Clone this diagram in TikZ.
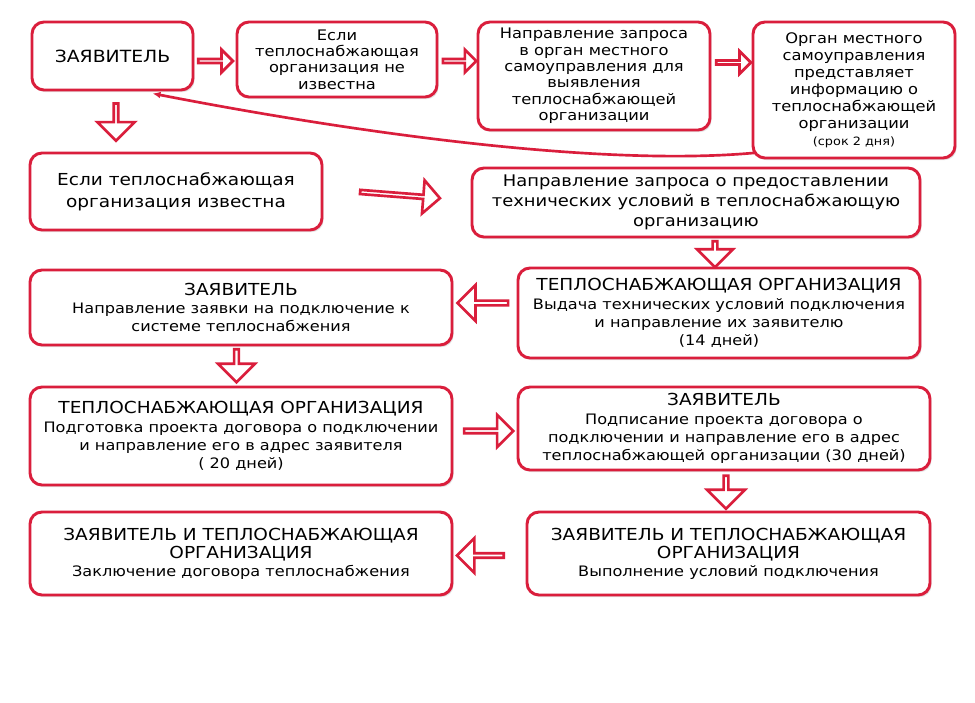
\documentclass[tikz,border=0pt]{standalone}
\usepackage{fontspec}
\setmainfont{DejaVu Sans}[FakeStretch=1.12]
\usetikzlibrary{arrows.meta,shapes.arrows,shadows}
\definecolor{boxred}{RGB}{218,30,60}

\begin{document}
\begin{tikzpicture}[x=0.75pt,y=-0.75pt,
  box/.style={draw=boxred,line width=2.2pt,rounded corners=9pt,fill=white,align=center,inner sep=2pt,
    drop shadow={shadow xshift=1.2pt,shadow yshift=-1.6pt,opacity=0.22}},
  blk/.style={single arrow,draw=boxred,fill=white,line width=2pt,inner sep=0pt,single arrow tip angle=90},
  bd/.style={font=\fontsize{10.8}{13.6}\selectfont}]
  % поле
  \fill[white] (0,0) rectangle (975,703);
  \useasboundingbox (0,0) rectangle (975,703);
  \newcommand{\hdr}[1]{{\fontsize{12.4}{15}\selectfont #1}}
  % верхний ряд
  \node[box,minimum width=120.75pt,minimum height=51pt,font=\fontsize{12.6}{15}\selectfont] (zaya) at (112.5,56) {ЗАЯВИТЕЛЬ};
  \node[box,minimum width=150pt,minimum height=56.25pt,font=\fontsize{10.9}{12.2}\selectfont] (neizv) at (337,59.5)
    {Если\\теплоснабжающая\\организация не\\известна};
  \node[box,minimum width=174pt,minimum height=81pt,font=\fontsize{10.9}{12.3}\selectfont] (zapros) at (594,76)
    {Направление запроса\\в орган местного\\самоуправления для\\выявления\\теплоснабжающей\\организации};
  \node[box,minimum width=151.5pt,minimum height=102pt,font=\fontsize{10.9}{12.7}\selectfont] (organ) at (854,90)
    {Орган местного\\самоуправления\\представляет\\информацию о\\теплоснабжающей\\организации\\{\fontsize{8.6}{10}\selectfont (срок 2 дня)}};
  % второй ряд
  \node[box,minimum width=219pt,minimum height=57.75pt,font=\fontsize{12.4}{16.5}\selectfont] (izv) at (176,191.5)
    {Если теплоснабжающая\\организация известна};
  \node[box,minimum width=336pt,minimum height=51.75pt,font=\fontsize{12}{15}\selectfont] (tu) at (696,202.5)
    {Направление запроса о предоставлении\\технических условий в теплоснабжающую\\организацию};
  % нижние ряды
  \node[box,bd,minimum width=316.5pt,minimum height=56.25pt] (zayavka) at (241,307.5)
    {\hdr{ЗАЯВИТЕЛЬ}\\Направление заявки на подключение к\\системе теплоснабжения};
  \node[box,bd,minimum width=301.5pt,minimum height=67.5pt] (vydacha) at (719,313)
    {\hdr{ТЕПЛОСНАБЖАЮЩАЯ ОРГАНИЗАЦИЯ}\\Выдача технических условий подключения\\и направление их заявителю\\(14 дней)};
  \node[box,bd,minimum width=316.5pt,minimum height=73.5pt] (proekt) at (241,436)
    {\hdr{ТЕПЛОСНАБЖАЮЩАЯ ОРГАНИЗАЦИЯ}\\Подготовка проекта договора о подключении\\и направление его в адрес заявителя\\( 20 дней)};
  \node[box,bd,minimum width=309pt,minimum height=62.25pt] (podpis) at (724,428.5)
    {\hdr{ЗАЯВИТЕЛЬ}\\Подписание проекта договора о\\подключении и направление его в адрес\\теплоснабжающей организации (30 дней)};
  \node[box,bd,minimum width=316.5pt,minimum height=62.25pt] (zakl) at (241,553.5)
    {\hdr{ЗАЯВИТЕЛЬ И ТЕПЛОСНАБЖАЮЩАЯ}\\\hdr{ОРГАНИЗАЦИЯ}\\Заключение договора теплоснабжения};
  \node[box,bd,minimum width=302.25pt,minimum height=62.25pt] (vypoln) at (728.5,553.5)
    {\hdr{ЗАЯВИТЕЛЬ И ТЕПЛОСНАБЖАЮЩАЯ}\\\hdr{ОРГАНИЗАЦИЯ}\\Выполнение условий подключения};
  % стрелки-блоки
  \node[blk,minimum height=26pt,minimum width=17pt,single arrow head extend=4.5pt] (a1) at (214.5,61) {};
  \node[blk,minimum height=25pt,minimum width=17pt,single arrow head extend=4.5pt] (a2) at (458.5,61) {};
  \node[blk,minimum height=26pt,minimum width=17pt,single arrow head extend=4.5pt] (a3) at (732.5,62.5) {};
  \node[blk,shape border rotate=270,minimum height=28pt,minimum width=28pt,single arrow head extend=7.5pt] (a4) at (116,121) {};
  \node[blk,rotate=-4.5,minimum height=60pt,minimum width=25pt,single arrow head extend=7pt] (a5) at (399,195) {};
  \node[blk,shape border rotate=270,minimum height=19.5pt,minimum width=27pt,single arrow head extend=6.5pt] (a6) at (715,253) {};
  \node[blk,shape border rotate=180,minimum height=38pt,minimum width=27pt,single arrow head extend=6.5pt] (a7) at (484,303) {};
  \node[blk,shape border rotate=270,minimum height=24.75pt,minimum width=27.75pt,single arrow head extend=6.75pt] (a8) at (236.5,364.5) {};
  \node[blk,minimum height=36.75pt,minimum width=24pt,single arrow head extend=6pt] (a9) at (487.5,431) {};
  \node[blk,shape border rotate=270,minimum height=24.75pt,minimum width=28.5pt,single arrow head extend=7pt] (a10) at (726,491) {};
  \node[blk,shape border rotate=180,minimum height=35pt,minimum width=26pt,single arrow head extend=6.5pt] (a11) at (481.5,555.5) {};
  % обратная связь от органа к заявителю
  \coordinate (cs) at ([xshift=3pt,yshift=5pt]organ.south west);
  \coordinate (ce) at ([xshift=30pt,yshift=-1.5pt]zaya.south);
  \draw[boxred,line width=2pt,-{Latex[length=6pt,width=5pt]}] (cs) .. controls (590,168) and (330,128) .. (ce);
\end{tikzpicture}
\end{document}
